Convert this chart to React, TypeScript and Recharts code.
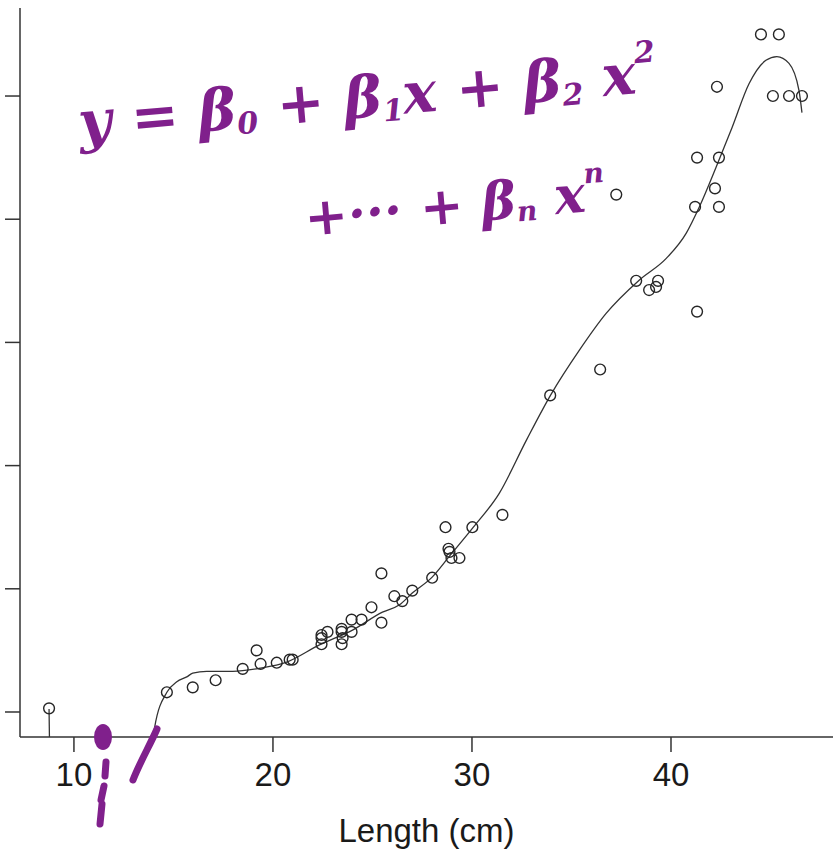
import React from 'react';
import { ComposedChart, Scatter, Line, XAxis, YAxis } from 'recharts';

// Observed fish: length (cm) and weight (g)
const lengths = [
  8.75, 14.67, 15.97, 17.12, 18.48, 19.18, 19.38, 20.19, 20.84, 20.99,
  22.44, 22.44, 22.44, 22.74, 23.45, 23.45, 23.45, 23.5, 23.95, 23.95,
  24.45, 24.95, 25.45, 25.45, 26.1, 26.5, 27.0, 28.0, 28.67, 28.82,
  28.87, 28.97, 29.37, 30.02, 31.53, 33.93, 36.44, 37.25, 38.25, 38.9,
  39.25, 39.35, 41.31, 41.21, 41.31, 42.21, 42.41, 42.41, 42.31, 44.52,
  45.42, 45.12, 45.93, 46.58,
];
const weights = [
  5.9, 32, 40, 51.5, 70, 100, 78, 80, 85, 85,
  125, 110, 120, 130, 135, 130, 110, 120, 150, 130,
  150, 170, 225, 145, 188, 180, 197, 218, 300, 265,
  260, 250, 250, 300, 320, 514, 556, 840, 700, 685,
  690, 700, 650, 820, 900, 850, 900, 820, 1015, 1100,
  1100, 1000, 1000, 1000,
];

// Fitted polynomial curve
const fitLength = [
  8.75, 8.85, 13.6, 14.06, 14.67, 15.17, 15.67, 15.97, 16.67, 17.98,
  19.33, 20.69, 22.34, 24.0, 25.5, 26.36, 27.0, 28.0, 28.87, 30.07,
  31.37, 32.73, 33.98, 35.39, 36.74, 38.4, 39.75, 40.76, 41.41, 42.26,
  43.07, 43.92, 44.77, 45.32, 45.93, 46.43, 46.58,
];
const fitWeight = [
  5, -160, -160, -24, 32, 49, 57, 63, 66, 66,
  71, 81, 109, 133, 162, 174, 193, 219, 253, 300,
  355, 441, 516, 587, 647, 701, 736, 777, 819, 884,
  949, 1020, 1058, 1064, 1053, 1009, 973,
];

const xTicks = [10, 20, 30, 40];
const yTicks = [0, 200, 400, 600, 800, 1000];

const points = lengths.map((x, i) => ({ x, y: weights[i] }));
const fit = fitLength.map((x, i) => ({ x, y: fitWeight[i] }));

const FONT = '"Liberation Sans", Arial, Helvetica, sans-serif';
const INK = '#80208c';
const AXIS = '#333';

const OpenCircle = (props: any) => (
  <circle cx={props.cx} cy={props.cy} r={5.4} fill="none" stroke="#262626" strokeWidth={1.4} />
);

const NoTick = () => <g />;

export default function App() {
  return (
    <div style={{ position: 'absolute', left: 0, top: 0, width: 836, height: 851, background: '#fff' }}>
      <ComposedChart width={836} height={851} margin={{ top: 8, right: 3, bottom: 0, left: 0 }}>
        <XAxis
          xAxisId="b"
          type="number"
          dataKey="x"
          domain={[7.29, 48.14]}
          allowDataOverflow
          ticks={xTicks}
          height={114}
          tickSize={15}
          tickMargin={11}
          stroke={AXIS}
          strokeWidth={1.5}
          tick={{ fill: '#1a1a1a', fontSize: 33, fontFamily: FONT }}
          label={{ value: 'Length (cm)', position: 'insideBottom', offset: 9, fill: '#1a1a1a', fontSize: 33, fontFamily: FONT }}
        />
        <XAxis
          xAxisId="t"
          orientation="top"
          type="number"
          domain={[7.29, 48.14]}
          allowDataOverflow
          height={0}
          tick={false}
          tickLine={false}
          stroke={AXIS}
          strokeWidth={1.5}
        />
        <YAxis
          yAxisId="l"
          type="number"
          dataKey="y"
          domain={[-40.6, 1142.9]}
          allowDataOverflow
          ticks={yTicks}
          width={20}
          tickSize={15}
          tick={NoTick}
          stroke={AXIS}
          strokeWidth={1.5}
        />
        <YAxis
          yAxisId="r"
          orientation="right"
          type="number"
          domain={[-40.6, 1142.9]}
          allowDataOverflow
          width={0}
          tick={false}
          tickLine={false}
          stroke={AXIS}
          strokeWidth={1.5}
        />
        <Line
          xAxisId="b"
          yAxisId="l"
          data={fit}
          dataKey="y"
          type="monotone"
          stroke="#333"
          strokeWidth={1.3}
          dot={false}
          activeDot={false}
          isAnimationActive={false}
        />
        <Scatter
          xAxisId="b"
          yAxisId="l"
          data={points}
          dataKey="y"
          shape={OpenCircle}
          isAnimationActive={false}
        />
      </ComposedChart>
      <svg
        width={836}
        height={851}
        style={{ position: 'absolute', left: 0, top: 0, pointerEvents: 'none' }}
      >
        <g fill={INK} fontFamily='"DejaVu Serif", serif' fontStyle="italic" fontWeight="bold">
          <text x={80} y={142} fontSize={57} transform="rotate(-5 80 142)">
            <tspan>y = β</tspan>
            <tspan fontSize={30} dy={6}>0</tspan>
            <tspan dy={-6}> + β</tspan>
            <tspan fontSize={30} dy={6}>1</tspan>
            <tspan dy={-6}>x + β</tspan>
            <tspan fontSize={30} dy={6}>2</tspan>
            <tspan dy={-6}> x</tspan>
            <tspan fontSize={30} dy={-30}>2</tspan>
          </text>
          <text x={306} y={236} fontSize={52} transform="rotate(-5 306 236)">
            <tspan>+··· + β</tspan>
            <tspan fontSize={28} dy={4}>n</tspan>
            <tspan dy={-4}> x</tspan>
            <tspan fontSize={28} dy={-28}>n</tspan>
          </text>
        </g>
        <g fill="none" stroke={INK} strokeLinecap="round" strokeWidth={7}>
          <path d="M157 729 C150 745 140 762 133 780" />
          <path d="M106 762 L105 776" />
          <path d="M104 786 L101 800" />
          <path d="M102 804 L100 824" />
        </g>
        <ellipse cx={103} cy={737} rx={9} ry={13} fill={INK} />
      </svg>
    </div>
  );
}
